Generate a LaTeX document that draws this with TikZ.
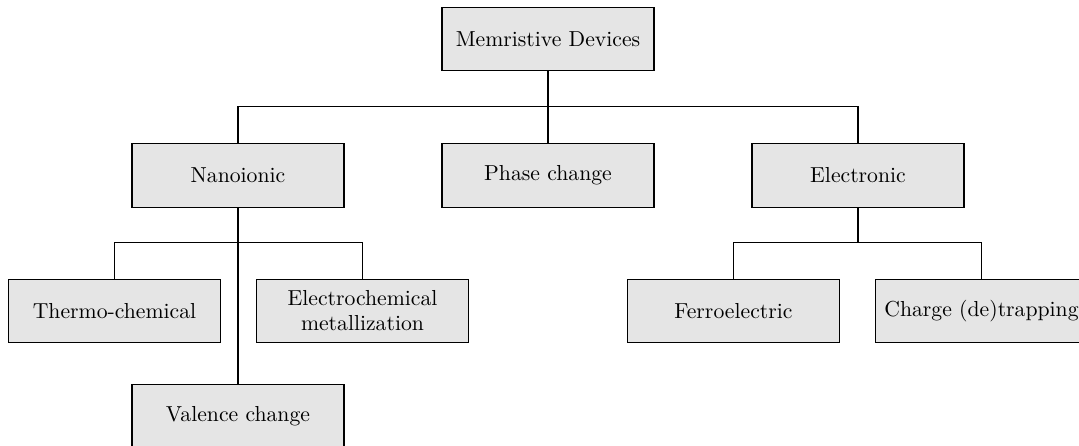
\documentclass[tikz,border=0pt]{standalone}
\usetikzlibrary{positioning}
\tikzset{
  catbox/.style={draw=black, fill=black!10, line width=0.5pt,
    minimum width=97.7pt, minimum height=29.3pt, inner sep=2pt,
    align=center, font=\fontsize{10}{11.5}\selectfont},
  link/.style={draw=black, line width=0.5pt}
}
\begin{document}
\begin{tikzpicture}[x=0.4608pt, y=-0.4608pt]
  \useasboundingbox (0,0) rectangle (1079,446);
  \clip (0,0) rectangle (1079,446);

  % top level
  \node[catbox] (root) at (548,39) {Memristive Devices};

  % mechanism classes
  \node[catbox] (nano)  at (238,175.3) {Nanoionic};
  \node[catbox] (phase) at (548,175.3) {Phase change};
  \node[catbox] (elec)  at (858,175.3) {Electronic};

  % nanoionic sub-types
  \node[catbox] (thermo)  at (114.5,311) {Thermo-chemical};
  \node[catbox] (ecm)     at (362.5,311) {Electrochemical\\metallization};
  \node[catbox] (valence) at (238,416)   {Valence change};

  % electronic sub-types
  \node[catbox] (ferro)  at (733.5,311) {Ferroelectric};
  \node[catbox] (charge) at (981.5,311) {Charge (de)trapping};

  % branch junctions
  \coordinate (j0) at (548,106.5);
  \coordinate (j1) at (238,242.8);
  \coordinate (j2) at (858,242.8);

  % tree connectors
  \path[link] (root.south) -- (phase.north);
  \path[link] (nano.north) |- (j0) -| (elec.north);

  \path[link] (nano.south) -- (valence.north);
  \path[link] (thermo.north) |- (j1) -| (ecm.north);

  \path[link] (elec.south) -- (j2);
  \path[link] (ferro.north) |- (j2) -| (charge.north);
\end{tikzpicture}
\end{document}
